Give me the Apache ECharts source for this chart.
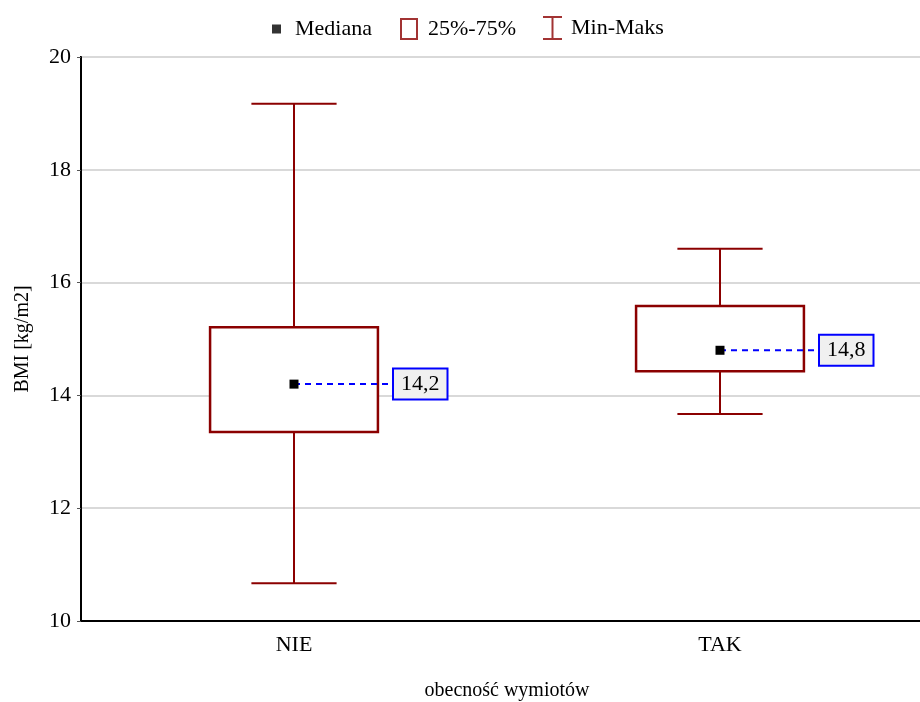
<!DOCTYPE html>
<html>
<head>
<meta charset="utf-8">
<script src="https://cdn.jsdelivr.net/npm/echarts@6/dist/echarts.min.js"></script>
<style>html,body{margin:0;padding:0;background:#fff;}#chart{width:920px;height:702px;}</style>
</head>
<body>
<div id="chart"></div>
<script>
var categories = ['NIE', 'TAK'];
var mins = [10.67, 13.67];
var q1s = [13.35, 14.43];
var medians = [14.2, 14.8];
var q3s = [15.21, 15.585];
var maxs = [19.17, 16.60];
var yTicks = [10, 12, 14, 16, 18, 20];

var RED = '#8B0000';
var FONT = '"Liberation Serif", "Times New Roman", serif';

var boxData = categories.map(function (c, i) {
  return [i, mins[i], q1s[i], medians[i], q3s[i], maxs[i]];
});

function fmt(v) { return v.toFixed(1).replace('.', ','); }

function renderBox(params, api) {
  var idx = api.value(0);
  var pMin = api.coord([idx, api.value(1)]);
  var pQ1 = api.coord([idx, api.value(2)]);
  var pMed = api.coord([idx, api.value(3)]);
  var pQ3 = api.coord([idx, api.value(4)]);
  var pMax = api.coord([idx, api.value(5)]);
  var band = api.size([1, 0])[0];
  var bw = band * 0.394;
  var cw = band * 0.2;
  var x = pMed[0];
  var ls = { stroke: RED, lineWidth: 2, fill: null };
  return {
    type: 'group',
    children: [
      { type: 'line', shape: { x1: x, y1: pMax[1], x2: x, y2: pQ3[1] }, style: ls },
      { type: 'line', shape: { x1: x, y1: pQ1[1], x2: x, y2: pMin[1] }, style: ls },
      { type: 'line', shape: { x1: x - cw / 2, y1: pMax[1], x2: x + cw / 2, y2: pMax[1] }, style: ls },
      { type: 'line', shape: { x1: x - cw / 2, y1: pMin[1], x2: x + cw / 2, y2: pMin[1] }, style: ls },
      { type: 'rect', shape: { x: x - bw / 2, y: pQ3[1], width: bw, height: pQ1[1] - pQ3[1] },
        style: { stroke: RED, lineWidth: 2.5, fill: '#fff' } },
      { type: 'line', shape: { x1: x, y1: pMed[1], x2: x + 100, y2: pMed[1] },
        style: { stroke: '#0000FF', lineWidth: 2, lineDash: [6, 5], fill: null } },
      { type: 'rect', shape: { x: x - 4.5, y: pMed[1] - 4.5, width: 9, height: 9 },
        style: { fill: '#000' } },
      { type: 'text', x: x + 100, y: pMed[1],
        style: {
          text: fmt(api.value(3)), font: '22px ' + FONT, fill: '#000',
          align: 'left', verticalAlign: 'middle',
          backgroundColor: '#f0f0f0', borderColor: '#0000FF', borderWidth: 2,
          padding: [4, 7, 3, 7]
        } }
    ]
  };
}

var chart = echarts.init(document.getElementById('chart'), null, { renderer: 'canvas' });
chart.setOption({
  animation: false,
  backgroundColor: '#fff',
  textStyle: { fontFamily: FONT },
  legend: [
    { left: 272, top: 18, padding: 0, itemWidth: 9, itemHeight: 9, selectedMode: false,
      textStyle: { fontSize: 22, fontFamily: FONT, color: '#000', padding: [0, 0, 0, 9] },
      data: [{ name: 'Mediana', icon: 'rect', itemStyle: { color: '#000' } }] },
    { left: 400, top: 18, padding: 0, itemWidth: 16, itemHeight: 20, selectedMode: false,
      textStyle: { fontSize: 22, fontFamily: FONT, color: '#000', padding: [0, 0, 0, 6] },
      data: [{ name: '25%-75%', icon: 'rect', itemStyle: { color: 'rgba(0,0,0,0)', borderColor: RED, borderWidth: 2 } }] },
    { left: 543, top: 16, padding: 0, itemWidth: 19, itemHeight: 24, selectedMode: false,
      textStyle: { fontSize: 22, fontFamily: FONT, color: '#000', padding: [0, 0, 0, 4] },
      data: [{ name: 'Min-Maks', icon: 'path://M0,0H19V2H0Z M8.5,0H10.5V24H8.5Z M0,22H19V24H0Z', itemStyle: { color: RED } }] }
  ],
  grid: { left: 81, top: 57, width: 852, height: 564, outerBoundsMode: 'none', containLabel: false,
    show: true, borderColor: '#000', borderWidth: 2, backgroundColor: 'transparent' },
  xAxis: {
    type: 'category', data: categories, boundaryGap: true,
    name: 'obecność wymiotów', nameLocation: 'middle', nameGap: 60,
    nameTextStyle: { fontSize: 20, fontFamily: FONT, color: '#000' },
    axisLine: { lineStyle: { color: '#000', width: 2 } },
    axisTick: { inside: true, alignWithLabel: true, length: 5, lineStyle: { color: '#555' } },
    axisLabel: { fontSize: 22, fontFamily: FONT, color: '#000', margin: 13 },
    splitLine: { show: false }
  },
  yAxis: {
    type: 'value', min: yTicks[0], max: yTicks[yTicks.length - 1], interval: 2,
    name: 'BMI [kg/m2]', nameLocation: 'middle', nameGap: 48,
    nameTextStyle: { fontSize: 20, fontFamily: FONT, color: '#000' },
    axisLine: { show: true, lineStyle: { color: '#000', width: 2 } },
    axisTick: { show: true, length: 4, lineStyle: { color: '#555' } },
    axisLabel: { fontSize: 22, fontFamily: FONT, color: '#000', margin: 10 },
    splitLine: { show: true, lineStyle: { color: '#d9d9d9', width: 2 } }
  },
  series: [
    { name: 'Mediana', type: 'scatter', data: [] },
    { name: '25%-75%', type: 'scatter', data: [] },
    { name: 'Min-Maks', type: 'scatter', data: [] },
    { name: 'box', type: 'custom', renderItem: renderBox, data: boxData,
      encode: { x: 0, y: [1, 2, 3, 4, 5] }, z: 5 }
  ]
});
</script>
</body>
</html>
